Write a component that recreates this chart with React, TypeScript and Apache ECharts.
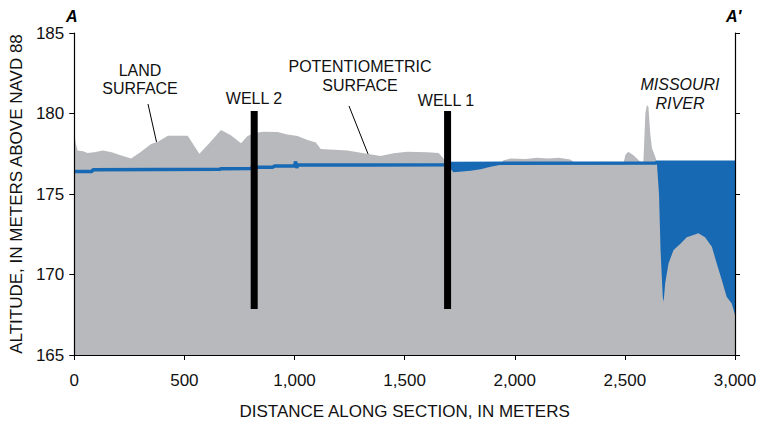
import React, { useEffect, useRef } from "react";
import * as echarts from "echarts";

// Land-surface profile along section A–A' (distance in m, altitude in m NAVD 88)
const landDistance = [
  0, 6, 15, 40, 60, 90, 130, 170, 210, 258, 300, 349, 380, 425, 515, 568, 613,
  666, 711, 757, 787, 820, 861, 923, 968, 1014, 1059, 1097, 1119, 1240, 1314,
  1391, 1450, 1512, 1603, 1654, 1677, 1700, 1722, 1760, 1800, 1845, 1890, 1930,
  1949, 1980, 2050, 2100, 2150, 2200, 2252, 2266, 2290, 2400, 2493, 2502, 2515,
  2539, 2570, 2584, 2593, 2600, 2607, 2615, 2623, 2638, 2645, 2655, 2662, 2672,
  2676, 2683, 2698, 2721, 2751, 2781, 2811, 2834, 2864, 2895, 2917, 2940, 2962,
  2985, 3000,
];
const landAltitude = [
  178.9, 178.2, 177.7, 177.65, 177.55, 177.6, 177.7, 177.6, 177.4, 177.2, 177.6,
  178.1, 178.25, 178.62, 178.62, 177.5, 178.15, 178.98, 178.65, 178.15, 178.6,
  178.8, 178.87, 178.85, 178.7, 178.6, 178.35, 178.2, 177.8, 177.7, 177.53,
  177.36, 177.53, 177.63, 177.6, 177.55, 177.2, 176.7, 176.35, 176.4, 176.45,
  176.53, 176.7, 176.8, 177.1, 177.2, 177.18, 177.25, 177.2, 177.25, 177.15,
  177.0, 176.85, 176.85, 176.85, 177.42, 177.63, 177.4, 177.0, 177.0, 180.0,
  180.53, 180.4, 178.77, 177.84, 177.32, 177.0, 175.0, 171.5, 168.6, 168.3,
  169.45, 170.69, 171.52, 171.9, 172.31, 172.45, 172.56, 172.31, 171.73, 170.69,
  169.66, 168.62, 168.2, 167.5,
];

// Potentiometric surface, continuing as the Missouri River stage
const headDistance = [
  0, 80, 85, 660, 665, 800, 810, 900, 910, 1000, 1005, 1010, 1015, 1022, 1300,
  1695, 1700, 2640, 2645, 3000,
];
const headAltitude = [
  176.4, 176.4, 176.5, 176.53, 176.57, 176.58, 176.66, 176.66, 176.74, 176.74,
  177.02, 176.62, 176.8, 176.8, 176.8, 176.82, 176.9, 176.92, 176.97, 176.97,
];

// Wells: location along section and screened extent
const wellNames = ["WELL 2", "WELL 1"];
const wellDistance = [817, 1695];
const wellTop = 180.15;
const wellBottom = 167.85;

const yTicks = [165, 170, 175, 180, 185];
const xTicks = [0, 500, 1000, 1500, 2000, 2500, 3000];

const FONT = "'Liberation Sans', Arial, Helvetica, sans-serif";
const GREY = "#b8b9bc";
const BLUE = "#1769b4";

const pairs = (xs: number[], ys: number[]) => xs.map((x, i) => [x, ys[i]]);

export default function App() {
  const ref = useRef<HTMLDivElement>(null);

  useEffect(() => {
    if (!ref.current) return;
    const chart = echarts.init(ref.current, undefined, { renderer: "svg" });

    const headData = pairs(headDistance, headAltitude);
    const landData = pairs(landDistance, landAltitude);

    const yAxisBase = {
      type: "value" as const,
      min: yTicks[0],
      max: yTicks[yTicks.length - 1],
      interval: 5,
      z: 10,
      splitLine: { show: false },
      axisLine: { show: true, onZero: false, lineStyle: { color: "#000", width: 1.2 } },
      axisTick: { show: true, inside: false, length: 5, lineStyle: { color: "#000" } },
    };

    const wellSeries = wellDistance.map((d, i) => ({
      name: wellNames[i],
      type: "line" as const,
      data: [
        [d, wellBottom],
        [d, wellTop],
      ],
      symbol: "none",
      z: 5,
      lineStyle: { color: "#000", width: 7, cap: "butt" as const },
      silent: true,
    }));

    chart.setOption({
      animation: false,
      backgroundColor: "#fff",
      grid: { left: 73, right: 25, top: 33, bottom: 73 },
      xAxis: {
        type: "value",
        min: xTicks[0],
        max: xTicks[xTicks.length - 1],
        interval: 500,
        z: 10,
        name: "DISTANCE ALONG SECTION, IN METERS",
        nameLocation: "middle",
        nameGap: 48,
        nameTextStyle: { fontFamily: FONT, fontSize: 17, color: "#111" },
        splitLine: { show: false },
        axisLine: { show: true, onZero: false, lineStyle: { color: "#000", width: 1.2 } },
        axisTick: { show: true, length: 5, lineStyle: { color: "#000" } },
        axisLabel: {
          fontFamily: FONT,
          fontSize: 17,
          color: "#111",
          margin: 17,
          formatter: (v: number) => v.toLocaleString("en-US"),
        },
      },
      yAxis: [
        {
          ...yAxisBase,
          position: "left",
          name: "ALTITUDE, IN METERS ABOVE NAVD 88",
          nameLocation: "middle",
          nameGap: 48,
          nameTextStyle: { fontFamily: FONT, fontSize: 17, color: "#111" },
          axisLabel: { fontFamily: FONT, fontSize: 17, color: "#111", margin: 10 },
        },
        {
          ...yAxisBase,
          position: "right",
          axisLabel: { show: false },
        },
      ],
      series: [
        {
          name: "Ground water",
          type: "line",
          data: headData,
          symbol: "none",
          z: 1,
          lineStyle: { width: 0 },
          areaStyle: { color: BLUE, opacity: 1, origin: "start" },
          silent: true,
        },
        {
          name: "Land surface",
          type: "line",
          data: landData,
          symbol: "none",
          z: 2,
          lineStyle: { width: 0 },
          areaStyle: { color: GREY, opacity: 1, origin: "start" },
          silent: true,
        },
        {
          name: "Potentiometric surface",
          type: "line",
          data: headData,
          symbol: "none",
          z: 3,
          lineStyle: { color: BLUE, width: 3.5 },
          silent: true,
        },
        ...wellSeries,
      ],
      graphic: [
        { type: "text", left: 66, top: 8, style: { text: "A", font: `italic bold 16px ${FONT}`, fill: "#000" } },
        { type: "text", left: 726, top: 8, style: { text: "A′", font: `italic bold 16px ${FONT}`, fill: "#000" } },
        {
          type: "text",
          x: 140,
          y: 79,
          style: { text: "LAND\nSURFACE", font: `16px ${FONT}`, fill: "#111", align: "center", verticalAlign: "middle", lineHeight: 18 },
        },
        { type: "line", shape: { x1: 148, y1: 104, x2: 156.5, y2: 142 }, style: { stroke: "#000", lineWidth: 1 } },
        {
          type: "text",
          x: 254,
          y: 98,
          style: { text: "WELL 2", font: `16px ${FONT}`, fill: "#111", align: "center", verticalAlign: "middle" },
        },
        {
          type: "text",
          x: 360,
          y: 75.5,
          style: { text: "POTENTIOMETRIC\nSURFACE", font: `16px ${FONT}`, fill: "#111", align: "center", verticalAlign: "middle", lineHeight: 19 },
        },
        { type: "line", shape: { x1: 349, y1: 106, x2: 372, y2: 164 }, style: { stroke: "#000", lineWidth: 1 } },
        {
          type: "text",
          x: 446,
          y: 100,
          style: { text: "WELL 1", font: `16px ${FONT}`, fill: "#111", align: "center", verticalAlign: "middle" },
        },
        {
          type: "text",
          x: 680,
          y: 93.5,
          style: { text: "MISSOURI\nRIVER", font: `italic 16px ${FONT}`, fill: "#111", align: "center", verticalAlign: "middle", lineHeight: 19 },
        },
      ],
    });

    return () => chart.dispose();
  }, []);

  return (
    <div
      ref={ref}
      style={{ position: "fixed", left: 0, top: 0, width: 760, height: 428 }}
    />
  );
}
